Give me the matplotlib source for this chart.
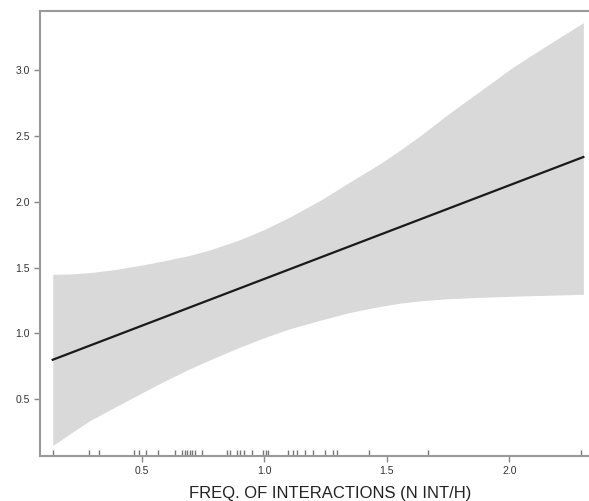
import numpy as np
import matplotlib
matplotlib.use('Agg')
import matplotlib.pyplot as plt

plt.rcParams['font.family'] = ['Liberation Sans', 'DejaVu Sans']

# smooth term (fitted line) and its confidence band
band_x = [0.137, 0.213, 0.289, 0.391, 0.493, 0.595, 0.697, 0.779, 0.901, 1.003, 1.105,
          1.228, 1.350, 1.473, 1.554, 1.650, 1.745, 1.880, 2.017, 2.160, 2.302]
band_upper = [1.449, 1.452, 1.462, 1.485, 1.517, 1.553, 1.593, 1.635, 1.712, 1.792, 1.885,
              2.010, 2.151, 2.290, 2.392, 2.520, 2.658, 2.840, 3.025, 3.195, 3.360]
band_lower = [0.148, 0.245, 0.338, 0.440, 0.541, 0.640, 0.732, 0.800, 0.896, 0.970, 1.036,
              1.100, 1.160, 1.205, 1.230, 1.250, 1.263, 1.274, 1.283, 1.290, 1.297]
fit_x = [0.137, 2.302]
fit_y = [0.80, 2.34]

# rug: observed frequencies
rug_x = [0.137, 0.286, 0.327, 0.469, 0.489, 0.518, 0.568, 0.636, 0.663, 0.677, 0.686,
         0.697, 0.707, 0.718, 0.747, 0.847, 0.860, 0.888, 0.901, 0.918, 0.949, 0.995,
         1.007, 1.017, 1.098, 1.119, 1.133, 1.167, 1.198, 1.248, 1.280, 1.298, 1.429,
         1.670, 2.292]

xticks = [0.5, 1.0, 1.5, 2.0]
yticks = [0.5, 1.0, 1.5, 2.0, 2.5, 3.0]

fig = plt.figure(figsize=(5.89, 5.01), dpi=100)
ax = fig.add_axes([40 / 589, 1 - 456 / 501, 1 - 40 / 589, (456 - 11) / 501])

ax.fill_between(band_x, band_lower, band_upper, color='#d9d9d9', lw=0)
ax.plot(fit_x, fit_y, color='#1a1a1a', lw=1.6)
ax.vlines(rug_x, 0, 0.014, transform=ax.get_xaxis_transform(), color='#777777', lw=1)

ax.set_xlim(0.085, 2.325)
ax.set_ylim(0.069, 3.449)
ax.set_xticks(xticks)
ax.set_yticks(yticks)
ax.set_xticklabels(['%.1f' % v for v in xticks])
ax.set_yticklabels(['%.1f' % v for v in yticks])

for side in ['left', 'top', 'bottom']:
    ax.spines[side].set_color('#999999')
    ax.spines[side].set_linewidth(1.5)
ax.spines['right'].set_visible(False)
ax.tick_params(direction='out', length=4, width=1, color='#888888', labelsize=7.5, labelcolor='#333333')

ax.set_xlabel('FREQ. OF INTERACTIONS (N INT/H)', fontsize=12, color='#222222', labelpad=7,
              x=(330 - 40) / 549)

fig.savefig('out.png', dpi=100)
